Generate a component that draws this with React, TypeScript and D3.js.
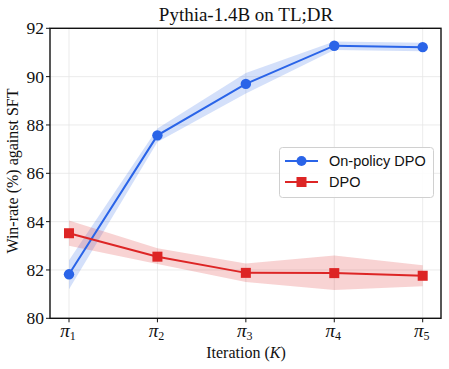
import React from "react";
import * as d3 from "d3";

const iterations = ["1", "2", "3", "4", "5"];
const onPolicy = [81.82, 87.57, 89.7, 91.28, 91.22];
const onPolicyLo = [81.2, 87.3, 89.3, 91.1, 91.05];
const onPolicyHi = [82.4, 87.85, 90.15, 91.45, 91.4];
const dpo = [83.52, 82.55, 81.88, 81.87, 81.76];
const dpoLo = [83.0, 82.25, 81.5, 81.17, 81.33];
const dpoHi = [84.05, 82.9, 82.27, 82.6, 82.2];
const yTicks = [80, 82, 84, 86, 88, 90, 92];

const W = 449, H = 369;
const L = 50, R = 441, T = 28.3, B = 318.3;
const BLUE = "#2a64e8";
const RED = "#dd2525";
const serif = "'Liberation Serif', 'DejaVu Serif', serif";
const sans = "'Liberation Sans', Arial, sans-serif";

export default function App() {
  const x = d3.scalePoint<string>().domain(iterations).range([69, 422.7]);
  const y = d3.scaleLinear().domain([80, 92]).range([B, T]);
  const line = d3.line<number>().x((_, i) => x(iterations[i])!).y(d => y(d));
  const area = (lo: number[], hi: number[]) =>
    d3.area<number>().x((_, i) => x(iterations[i])!).y0((_, i) => y(lo[i])).y1((_, i) => y(hi[i]))(lo.map((v) => v))!;

  return (
    <svg width={W} height={H} style={{ position: "absolute", left: 0, top: 0, background: "#fff" }}>
      <rect width={W} height={H} fill="#fff" />
      {/* grid */}
      {yTicks.map(t => (
        <line key={"gy" + t} x1={L} x2={R} y1={y(t)} y2={y(t)} stroke="#e6e6e6" strokeWidth={0.8} />
      ))}
      {iterations.map(it => (
        <line key={"gx" + it} x1={x(it)} x2={x(it)} y1={T} y2={B} stroke="#e6e6e6" strokeWidth={0.8} />
      ))}
      {/* bands */}
      <path d={area(onPolicyLo, onPolicyHi)} fill={BLUE} fillOpacity={0.2} />
      <path d={area(dpoLo, dpoHi)} fill={RED} fillOpacity={0.2} />
      {/* lines */}
      <path d={line(onPolicy)!} fill="none" stroke={BLUE} strokeWidth={2} />
      <path d={line(dpo)!} fill="none" stroke={RED} strokeWidth={2} />
      {onPolicy.map((v, i) => (
        <circle key={"c" + i} cx={x(iterations[i])} cy={y(v)} r={5.2} fill={BLUE} />
      ))}
      {dpo.map((v, i) => (
        <rect key={"s" + i} x={x(iterations[i])! - 5} y={y(v) - 5} width={10} height={10} fill={RED} />
      ))}
      {/* frame */}
      <rect x={L} y={T} width={R - L} height={B - T} fill="none" stroke="#111" strokeWidth={1.4} />
      {/* y ticks */}
      {yTicks.map(t => (
        <g key={"yt" + t}>
          <line x1={L - 4} x2={L} y1={y(t)} y2={y(t)} stroke="#111" strokeWidth={1} />
          <text x={L - 6} y={y(t)} dy="0.35em" textAnchor="end" fontFamily={serif} fontSize={17.5} fill="#111">{t}</text>
        </g>
      ))}
      {/* x ticks */}
      {iterations.map(it => (
        <g key={"xt" + it}>
          <line x1={x(it)} x2={x(it)} y1={B} y2={B + 4} stroke="#111" strokeWidth={1} />
          <text x={x(it) - 1} y={B + 19} textAnchor="middle" fontFamily={serif} fontSize={19} fill="#111">
            <tspan fontStyle="italic">π</tspan>
            <tspan fontSize={12} dy={2.5}>{it}</tspan>
          </text>
        </g>
      ))}
      {/* labels */}
      <text x={246} y={21} textAnchor="middle" fontFamily={serif} fontSize={19} fill="#111">Pythia-1.4B on TL;DR</text>
      <text x={246} y={358} textAnchor="middle" fontFamily={serif} fontSize={16} fill="#111">
        Iteration (<tspan fontStyle="italic">K</tspan>)
      </text>
      <text transform={`translate(18, 171) rotate(-90)`} textAnchor="middle" fontFamily={serif} fontSize={16} fill="#111">
        Win-rate (%) against SFT
      </text>
      {/* legend */}
      <g>
        <rect x={279.5} y={147.5} width={154} height={50} rx={3} fill="#fff" fillOpacity={0.85} stroke="#d0d0d0" strokeWidth={1} />
        <line x1={285} x2={318} y1={161} y2={161} stroke={BLUE} strokeWidth={2} />
        <circle cx={301.5} cy={161} r={5} fill={BLUE} />
        <text x={329} y={161} dy="0.35em" fontFamily={sans} fontSize={14.5} fill="#111">On-policy DPO</text>
        <line x1={285} x2={318} y1={182} y2={182} stroke={RED} strokeWidth={2} />
        <rect x={296.5} y={177} width={10} height={10} fill={RED} />
        <text x={329} y={182} dy="0.35em" fontFamily={sans} fontSize={14.5} fill="#111">DPO</text>
      </g>
    </svg>
  );
}
